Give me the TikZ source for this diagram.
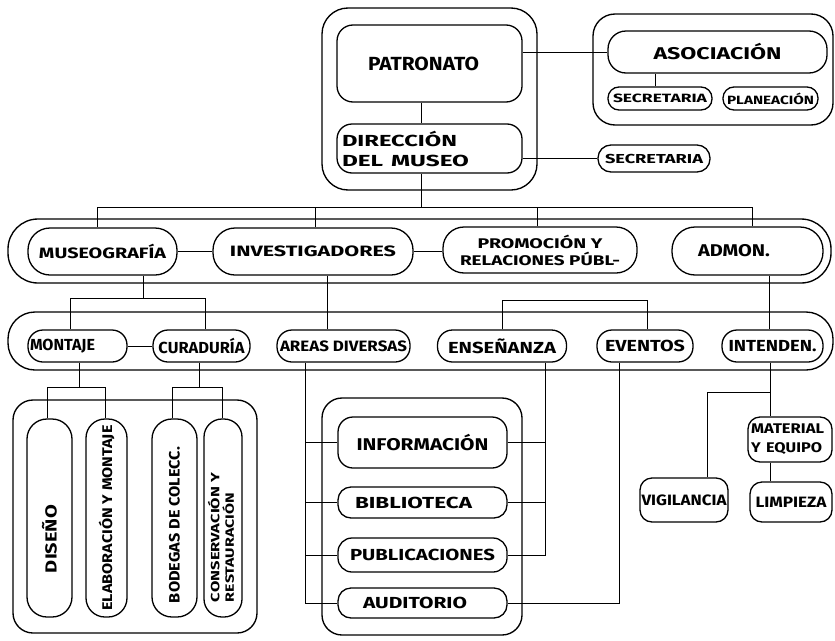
\documentclass[tikz,border=0pt]{standalone}
\usepackage{fontspec}
\setmainfont{Fira Sans}
\usepackage{graphicx}
\newcommand\fitw[2]{\resizebox{#1pt}{\height}{#2}}
\newcommand\fsz[2]{\fontsize{#1}{#2}\selectfont\bfseries}
\begin{document}
\begin{tikzpicture}[x=1pt,y=-1pt,
  bx/.style={draw, line width=1.3pt, rounded corners=#1, inner sep=0pt, align=center},
  bx/.default=12pt,
  ob/.style={draw, line width=1.35pt, rounded corners=#1, inner sep=0pt},
  ob/.default=20pt,
  cn/.style={line width=1pt}]
\fill[white] (0,0) rectangle (835,640);
\useasboundingbox (0,0) rectangle (835,640);

% ---------- top group
\node[ob=26pt, minimum width=215pt, minimum height=182pt] (topouter) at (429.5,99) {};
\node[bx=16pt, minimum width=185pt, minimum height=77pt, font=\fsz{19}{21}] (patronato) at (429.5,63.5) {\fitw{111}{PATRONATO}\kern12pt};
\node[bx=15pt, minimum width=185pt, minimum height=49pt, text width=175pt, align=left, font=\fsz{16}{20}] (direccion) at (429.5,148.5) {\fitw{115}{DIRECCIÓN}\\\fitw{127}{DEL MUSEO}};

\node[ob=22pt, minimum width=240pt, minimum height=111pt] (asocouter) at (713,69.5) {};
\node[bx=18pt, minimum width=219pt, minimum height=42pt, font=\fsz{17}{20}] (asociacion) at (717.5,52) {\fitw{128}{ASOCIACIÓN}};
\node[bx=11pt, minimum width=104pt, minimum height=23pt, font=\fsz{12}{13}] (secA) at (660,98.5) {\fitw{94}{SECRETARIA}};
\node[bx=11pt, minimum width=95pt, minimum height=23pt, font=\fsz{12}{13}] (planeacion) at (770.5,98.5) {\fitw{87}{PLANEACIÓN}};
\node[bx=13pt, minimum width=112pt, minimum height=27pt, font=\fsz{13}{14}] (secD) at (654,158.5) {\fitw{98}{SECRETARIA}};

% ---------- row 2
\node[ob=30pt, minimum width=823pt, minimum height=64pt] (row2) at (419.5,251) {};
\node[bx=22pt, minimum width=149pt, minimum height=47pt, font=\fsz{15}{17}] (museografia) at (102.5,251.5) {\fitw{127}{MUSEOGRAFÍA}};
\node[bx=22pt, minimum width=200pt, minimum height=47pt, font=\fsz{15}{17}] (investigadores) at (313,251.5) {\fitw{166}{INVESTIGADORES}};
\node[bx=21pt, minimum width=194pt, minimum height=46pt, font=\fsz{14}{17}] (promocion) at (540,250) {\fitw{125}{PROMOCIÓN Y}\\\fitw{160}{RELACIONES PÚBL-}};
\node[bx=23pt, minimum width=151pt, minimum height=48pt, text width=99pt, align=left, font=\fsz{17}{19}] (admon) at (747.5,251) {\fitw{72}{ADMON.}};

% ---------- row 3
\node[ob=27pt, minimum width=825pt, minimum height=58pt] (row3) at (420.5,341) {};
\node[bx=15pt, minimum width=99pt, minimum height=32pt, text width=95pt, align=left, font=\fsz{16}{17}] (montaje) at (77.5,346) {\fitw{65}{MONTAJE}};
\node[bx=15pt, minimum width=97pt, minimum height=32pt, font=\fsz{16}{17}] (curaduria) at (201.5,346) {\fitw{86}{CURADURÍA}};
\node[bx=15pt, minimum width=133pt, minimum height=32pt, font=\fsz{15}{17}] (areas) at (343.5,346) {\fitw{127}{AREAS DIVERSAS}};
\node[bx=15pt, minimum width=129pt, minimum height=32pt, font=\fsz{16}{17}] (ensenanza) at (502,346) {\fitw{108}{ENSEÑANZA}};
\node[bx=15pt, minimum width=96pt, minimum height=32pt, font=\fsz{16}{17}] (eventos) at (645,346) {\fitw{80}{EVENTOS}};
\node[bx=15pt, minimum width=101pt, minimum height=32pt, font=\fsz{16}{17}] (intenden) at (772.5,346) {\fitw{88}{INTENDEN.}};

% ---------- row 4 left
\node[ob=20pt, minimum width=244pt, minimum height=233pt] (leftouter) at (135,516.5) {};
\node[bx=20pt, minimum width=45pt, minimum height=198pt, font=\fsz{16}{18}] (diseno) at (49.5,518) {\rotatebox{90}{\fitw{68}{DISEÑO}\kern42pt}};
\node[bx=19pt, minimum width=41pt, minimum height=198pt, font=\fsz{14}{16}] (elaboracion) at (106.5,518) {\rotatebox{90}{\fitw{185}{ELABORACIÓN Y MONTAJE}}};
\node[bx=20pt, minimum width=45pt, minimum height=198pt, font=\fsz{15}{17}] (bodegas) at (174.5,518) {\rotatebox{90}{\fitw{156}{BODEGAS DE COLECC.}\kern14pt}};
\node[bx=18pt, minimum width=38pt, minimum height=198pt, font=\fsz{12}{14}] (conservacion) at (223,518) {\rotatebox{90}{\begin{tabular}{@{}l@{}}\fitw{129}{CONSERVACIÓN Y}\\[-1pt]\fitw{109}{RESTAURACIÓN}\end{tabular}\kern39pt}};

% ---------- row 4 middle
\node[ob=20pt, minimum width=200pt, minimum height=237pt] (midouter) at (422,516.5) {};
\node[bx=15pt, minimum width=169pt, minimum height=51pt, font=\fsz{17}{19}] (info) at (422.5,442.5) {\fitw{132}{INFORMACIÓN}};
\node[bx=13pt, minimum width=169pt, minimum height=31pt, font=\fsz{16}{18}] (biblio) at (422.5,502.5) {\fitw{117}{BIBLIOTECA}\kern18pt};
\node[bx=14pt, minimum width=169pt, minimum height=34pt, font=\fsz{16}{18}] (publ) at (422.5,555) {\fitw{145}{PUBLICACIONES}};
\node[bx=13pt, minimum width=169pt, minimum height=30pt, font=\fsz{16}{18}] (audit) at (422.5,603) {\fitw{104}{AUDITORIO}\kern15pt};

% ---------- row 4 right
\node[bx=12pt, minimum width=84pt, minimum height=45pt, text width=78pt, align=left, font=\fsz{14}{19}] (material) at (790,439.5) {\fitw{73}{MATERIAL}\\\fitw{71}{Y EQUIPO}};
\node[bx=12pt, minimum width=88pt, minimum height=44pt, font=\fsz{15}{16}] (vigilancia) at (684,500) {\fitw{85}{VIGILANCIA}};
\node[bx=12pt, minimum width=82pt, minimum height=40pt, font=\fsz{15}{16}] (limpieza) at (791,502) {\fitw{71}{LIMPIEZA}};

% ---------- connectors: top
\draw[cn] ([xshift=-8.5pt]patronato.south) -- ([xshift=-8.5pt]direccion.north);
\draw[cn] (patronato.east |- asociacion.west) -- (asociacion.west);
\draw[cn] (direccion.east |- secD.west) -- (secD.west);
\draw[cn] ([xshift=-5pt]secA.north) -- ([xshift=-5pt]secA.north |- asociacion.south);

\coordinate (busL) at (97,207);
\coordinate (busR) at (752,207);
\coordinate (busI) at (315,207);
\coordinate (busP) at (537,207);
\draw[cn] ([xshift=-8.5pt]direccion.south) -- ([xshift=-8.5pt]direccion.south |- busL);
\draw[cn] (busL) -- (busR);
\draw[cn] (busL) -- (busL |- museografia.north);
\draw[cn] (busI) -- (busI |- investigadores.north);
\draw[cn] (busP) -- (busP |- promocion.north);
\draw[cn] (busR) -- (busR |- admon.north);

% bridges
\draw[cn] (museografia.east) -- (investigadores.west);
\draw[cn] (investigadores.east) -- (investigadores.east -| promocion.west);
\draw[cn] (montaje.east) -- (curaduria.west);

% ---------- row2 -> row3
\coordinate (mA) at (70,298);
\coordinate (mB) at (205,298);
\draw[cn] ([xshift=40.5pt]museografia.south) -- ([xshift=40.5pt]museografia.south |- mA);
\draw[cn] (mA) -- (mB);
\draw[cn] (mA) -- (mA |- montaje.north);
\draw[cn] (mB) -- (mB |- curaduria.north);
\draw[cn] ([xshift=14pt]investigadores.south) -- ([xshift=14pt]investigadores.south |- areas.north);
\coordinate (pA) at (502,300);
\coordinate (pB) at (647,300);
\draw[cn] (pA |- ensenanza.north) -- (pA) -- (pB) -- (pB |- eventos.north);
\draw[cn] ([xshift=21.5pt]admon.south) -- ([xshift=21.5pt]admon.south |- intenden.north);

% ---------- row3 -> row4 left
\coordinate (dA) at (47,387);
\coordinate (dB) at (105,387);
\coordinate (cA) at (172,387);
\coordinate (cB) at (222,387);
\draw[cn] ([xshift=1.5pt]montaje.south) -- ([xshift=1.5pt]montaje.south |- dA);
\draw[cn] (dA |- diseno.north) -- (dA) -- (dB) -- (dB |- elaboracion.north);
\draw[cn] ([xshift=-2.5pt]curaduria.south) -- ([xshift=-2.5pt]curaduria.south |- cA);
\draw[cn] (cA |- bodegas.north) -- (cA) -- (cB) -- (cB |- conservacion.north);

% ---------- row3 -> row4 middle
\coordinate (aV) at ([xshift=-38.5pt]areas.south);
\draw[cn] (aV) |- (audit.west);
\draw[cn] (info.west) -- (info.west -| aV);
\draw[cn] (biblio.west) -- (biblio.west -| aV);
\draw[cn] (publ.west) -- (publ.west -| aV);
\coordinate (eV) at ([xshift=43pt]ensenanza.south);
\draw[cn] (eV) |- (publ.east);
\draw[cn] (info.east) -- (info.east -| eV);
\draw[cn] (biblio.east) -- (biblio.east -| eV);
\draw[cn] ([xshift=-26pt]eventos.south) |- (audit.east);

% ---------- row3 -> row4 right
\coordinate (iV) at ([xshift=-2.5pt]intenden.south);
\coordinate (jV) at (707,392);
\draw[cn] (iV) -- (iV |- material.north);
\draw[cn] (iV |- jV) -- (jV) -- (jV |- vigilancia.north);
\draw[cn] (iV |- material.south) -- (iV |- limpieza.north);
\end{tikzpicture}
\end{document}
